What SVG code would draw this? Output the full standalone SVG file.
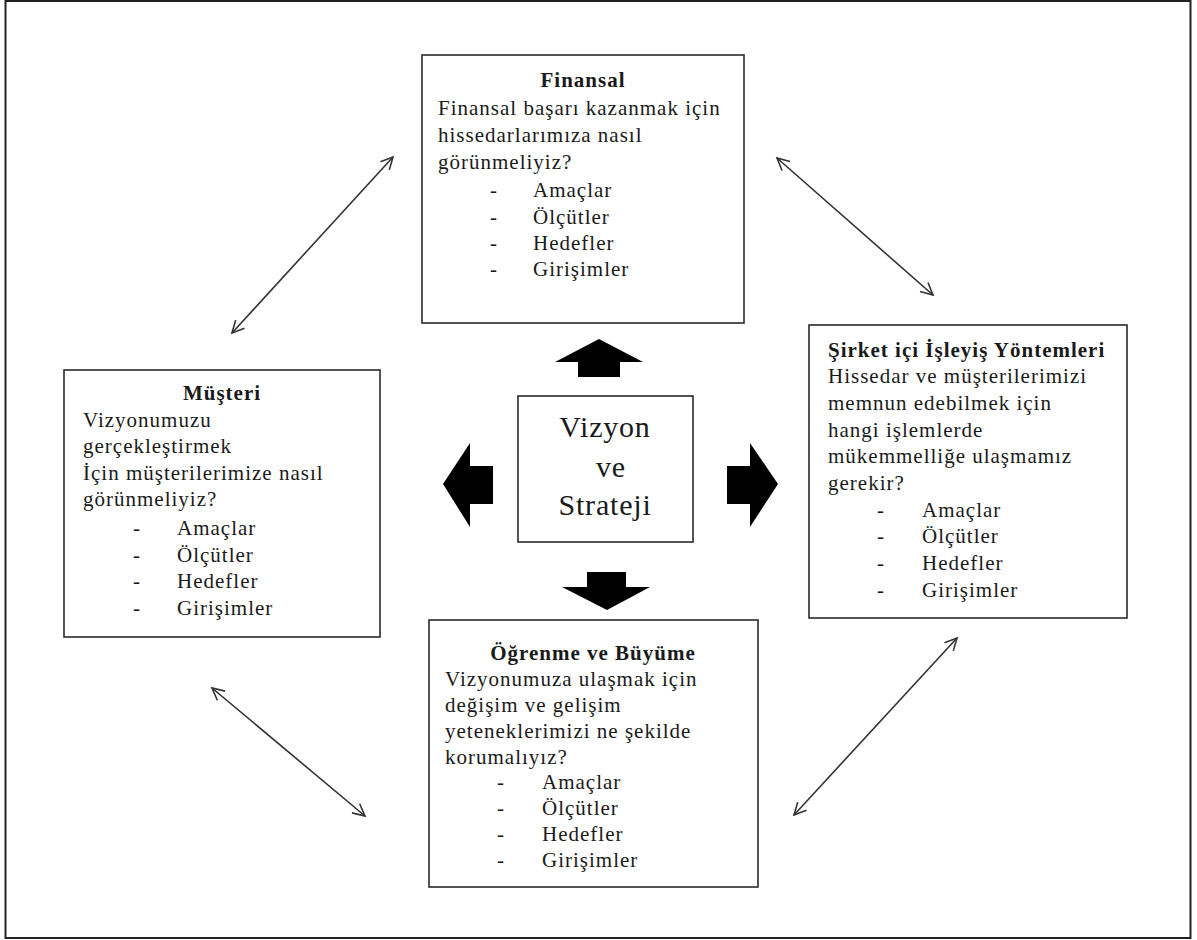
<svg xmlns="http://www.w3.org/2000/svg" width="1197" height="940" viewBox="0 0 1197 940">
<style>
.box{fill:#fff;stroke:#2a2a2a;stroke-width:1.6}
.t{font-family:"Liberation Serif","Times New Roman",serif;font-size:21px;fill:#1a1a1a;letter-spacing:1px}
.b{font-weight:bold}
.c{text-anchor:middle}
.big{font-family:"Liberation Serif","Times New Roman",serif;font-size:30px;fill:#1a1a1a;letter-spacing:0.8px;text-anchor:middle}
.con{stroke:#333;stroke-width:1.6;fill:none;marker-start:url(#ah);marker-end:url(#ah)}
.blk{fill:#000}
</style>
<defs>
<marker id="ah" markerUnits="userSpaceOnUse" markerWidth="16" markerHeight="16" viewBox="0 0 16 16" refX="14" refY="8" orient="auto-start-reverse">
<path d="M2,2 L14,8 L2,14" fill="none" stroke="#333" stroke-width="1.6"/>
</marker>
</defs>
<rect x="0" y="0" width="1197" height="940" fill="#fff"/>
<rect x="5.5" y="1" width="1185" height="937" fill="none" stroke="#222" stroke-width="2"/>

<g id="connectors">
<line class="con" x1="232" y1="333" x2="393" y2="157"/>
<line class="con" x1="777" y1="158" x2="933" y2="295"/>
<line class="con" x1="212" y1="688" x2="365" y2="816"/>
<line class="con" x1="794" y1="815" x2="957" y2="638"/>
<polygon class="blk" points="599,339 643,362 620,362 620,377 578,377 578,362 555,362"/>
<polygon class="blk" points="443,484 470,443 470,466 493,466 493,504 470,504 470,527"/>
<polygon class="blk" points="778,484 750,443 750,466 727,466 727,504 750,504 750,527"/>
<polygon class="blk" points="607,610 650,587 626,587 626,572 587,572 587,587 562,587"/>
</g>

<g id="finansal">
<rect class="box" x="422" y="55" width="322" height="268"/>
<text class="t b c" x="583" y="87">Finansal</text>
<text class="t" x="438" y="115">Finansal başarı kazanmak için</text>
<text class="t" x="438" y="142">hissedarlarımıza nasıl</text>
<text class="t" x="438" y="169">görünmeliyiz?</text>
<text class="t" x="490" y="197">-</text><text class="t" x="533" y="197">Amaçlar</text>
<text class="t" x="490" y="224">-</text><text class="t" x="533" y="224">Ölçütler</text>
<text class="t" x="490" y="250">-</text><text class="t" x="533" y="250">Hedefler</text>
<text class="t" x="490" y="276">-</text><text class="t" x="533" y="276">Girişimler</text>
</g>

<g id="musteri">
<rect class="box" x="64" y="370" width="316" height="267"/>
<text class="t b c" x="222" y="400">Müşteri</text>
<text class="t" x="83" y="427">Vizyonumuzu</text>
<text class="t" x="83" y="453">gerçekleştirmek</text>
<text class="t" x="83" y="480">İçin müşterilerimize nasıl</text>
<text class="t" x="83" y="506">görünmeliyiz?</text>
<text class="t" x="133" y="535">-</text><text class="t" x="177" y="535">Amaçlar</text>
<text class="t" x="133" y="562">-</text><text class="t" x="177" y="562">Ölçütler</text>
<text class="t" x="133" y="588">-</text><text class="t" x="177" y="588">Hedefler</text>
<text class="t" x="133" y="615">-</text><text class="t" x="177" y="615">Girişimler</text>
</g>

<g id="sirket">
<rect class="box" x="809" y="325" width="318" height="293"/>
<text class="t b" x="828" y="357">Şirket içi İşleyiş Yöntemleri</text>
<text class="t" x="828" y="383">Hissedar ve müşterilerimizi</text>
<text class="t" x="828" y="410">memnun edebilmek için</text>
<text class="t" x="828" y="437">hangi işlemlerde</text>
<text class="t" x="828" y="463">mükemmelliğe ulaşmamız</text>
<text class="t" x="828" y="490">gerekir?</text>
<text class="t" x="877" y="517">-</text><text class="t" x="922" y="517">Amaçlar</text>
<text class="t" x="877" y="543">-</text><text class="t" x="922" y="543">Ölçütler</text>
<text class="t" x="877" y="570">-</text><text class="t" x="922" y="570">Hedefler</text>
<text class="t" x="877" y="597">-</text><text class="t" x="922" y="597">Girişimler</text>
</g>

<g id="ogrenme">
<rect class="box" x="429" y="620" width="329" height="267"/>
<text class="t b c" x="593" y="660">Öğrenme ve Büyüme</text>
<text class="t" x="445" y="686">Vizyonumuza ulaşmak için</text>
<text class="t" x="445" y="712">değişim  ve gelişim</text>
<text class="t" x="445" y="738">yeteneklerimizi ne şekilde</text>
<text class="t" x="445" y="764">korumalıyız?</text>
<text class="t" x="497" y="789">-</text><text class="t" x="542" y="789">Amaçlar</text>
<text class="t" x="497" y="815">-</text><text class="t" x="542" y="815">Ölçütler</text>
<text class="t" x="497" y="841">-</text><text class="t" x="542" y="841">Hedefler</text>
<text class="t" x="497" y="867">-</text><text class="t" x="542" y="867">Girişimler</text>
</g>

<g id="vizyon">
<rect class="box" x="518" y="396" width="175" height="146"/>
<text class="big" x="605" y="437">Vizyon</text>
<text class="big" x="611" y="477">ve</text>
<text class="big" x="605" y="515">Strateji</text>
</g>
</svg>
